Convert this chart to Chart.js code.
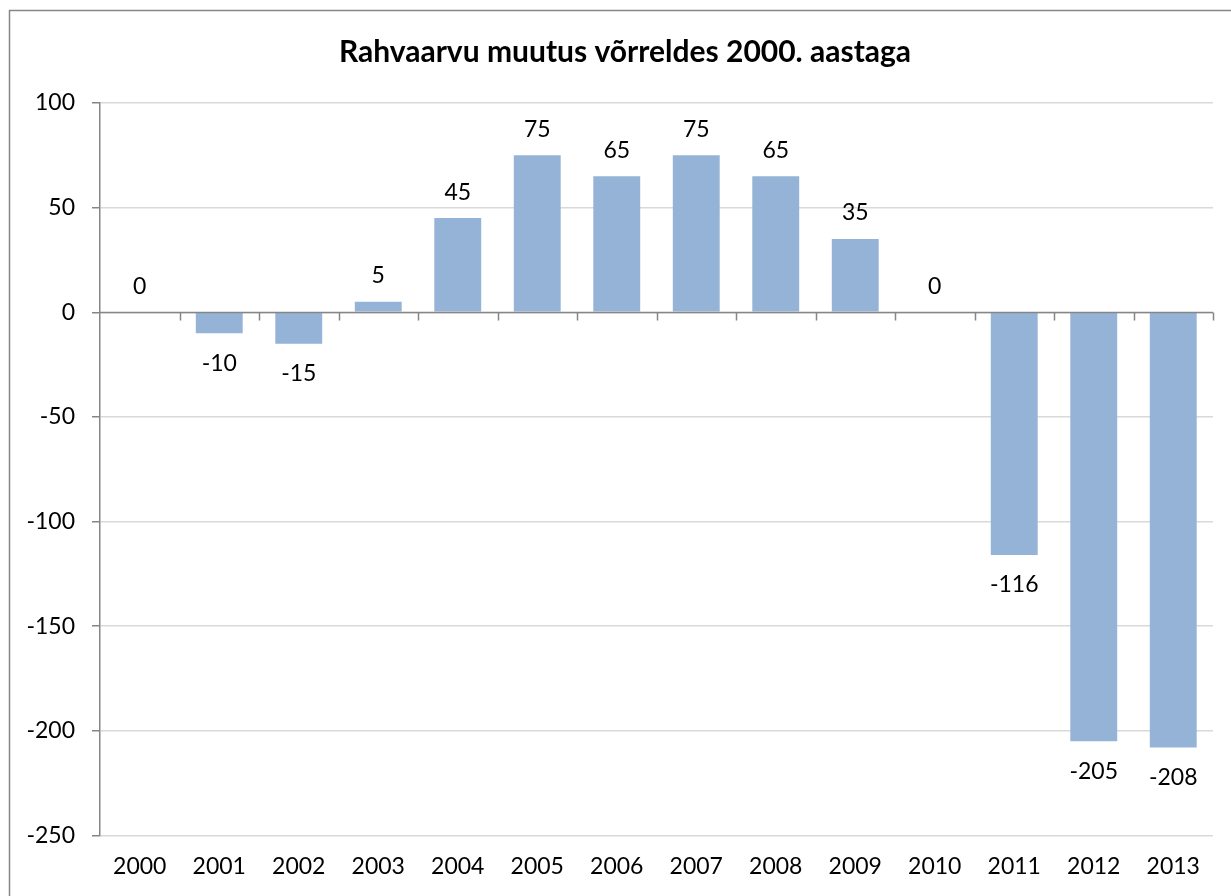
<!DOCTYPE html>
<html>
<head>
<meta charset="utf-8">
<script src="https://cdn.jsdelivr.net/npm/chart.js@4.4.1/dist/chart.umd.min.js"></script>
<style>
html,body{margin:0;padding:0;background:#fff;}
#wrap{width:1231px;height:896px;position:relative;}
</style>
</head>
<body>
<div id="wrap"><canvas id="c" width="1231" height="896"></canvas></div>
<script>
const titleText = "Rahvaarvu muutus võrreldes 2000. aastaga";
const categories = ["2000","2001","2002","2003","2004","2005","2006","2007","2008","2009","2010","2011","2012","2013"];
const values = [0,-10,-15,5,45,75,65,75,65,35,0,-116,-205,-208];
const yTicks = [100,50,0,-50,-100,-150,-200,-250];

const FONT = "Lato, 'Open Sans', sans-serif";

const framePlugin = {
  id: 'frame',
  beforeDraw(chart) {
    const ctx = chart.ctx;
    ctx.save();
    ctx.fillStyle = '#fff';
    ctx.fillRect(0,0,chart.width,chart.height);
    ctx.strokeStyle = '#868686';
    ctx.lineWidth = 1.5;
    ctx.strokeRect(9.5, 10.5, 1260, 920);
    ctx.restore();
  },
  afterLayout(chart) {
    if (chart.titleBlock) {
      chart.titleBlock.left = 37;
    }
  }
};

const axisPlugin = {
  id: 'zeroAxis',
  afterDatasetsDraw(chart) {
    const ctx = chart.ctx;
    const y = chart.scales.y;
    const y0 = Math.round(y.getPixelForValue(0)) + 0.5;
    ctx.save();
    ctx.strokeStyle = '#868686';
    ctx.lineWidth = 1.5;
    ctx.beginPath();
    ctx.moveTo(chart.chartArea.left, y0);
    ctx.lineTo(chart.chartArea.right, y0);
    const n = categories.length;
    const w = (chart.chartArea.right - chart.chartArea.left) / n;
    for (let i = 1; i <= n; i++) {
      const px = Math.round(chart.chartArea.left + i * w) + 0.5;
      ctx.moveTo(px, y0);
      ctx.lineTo(px, y0 + 8);
    }
    ctx.stroke();
    // data labels
    ctx.fillStyle = '#000';
    ctx.font = "23px " + FONT;
    ctx.textAlign = 'center';
    ctx.textBaseline = 'middle';
    const meta = chart.getDatasetMeta(0);
    meta.data.forEach((bar, i) => {
      const v = values[i];
      const ty = v >= 0 ? bar.y - 26 : bar.y + 30;
      ctx.fillText(String(v), bar.x, ty);
    });
    ctx.restore();
  }
};

new Chart(document.getElementById('c'), {
  type: 'bar',
  data: {
    labels: categories,
    datasets: [{
      data: values,
      backgroundColor: '#95B3D7',
      borderWidth: 0,
      barPercentage: 0.59,
      categoryPercentage: 1.0
    }]
  },
  options: {
    responsive: false,
    animation: false,
    devicePixelRatio: 1,
    layout: { padding: { left: 0, right: 18, top: 10, bottom: 7 } },
    plugins: {
      legend: { display: false },
      tooltip: { enabled: false },
      title: {
        display: true,
        text: titleText,
        color: '#000',
        font: { family: FONT, size: 30, weight: 'bold' },
        padding: { top: 24, bottom: 33 }
      }
    },
    scales: {
      x: {
        offset: true,
        grid: { display: false },
        border: { display: false },
        ticks: { color: '#000', font: { family: FONT, size: 23 }, padding: 9 }
      },
      y: {
        min: -250, max: 100,
        afterFit(s) { s.width = 100; },
        afterBuildTicks(s) { s.ticks = yTicks.map(v => ({ value: v })); },
        grid: {
          color: '#D9D9D9',
          lineWidth: 1.5,
          tickColor: '#868686',
          tickLength: 8,
          drawTicks: true
        },
        border: { display: true, color: '#868686', width: 1.5 },
        ticks: { color: '#000', font: { family: FONT, size: 23 }, padding: 17 }
      }
    }
  },
  plugins: [framePlugin, axisPlugin]
});
</script>
</body>
</html>
